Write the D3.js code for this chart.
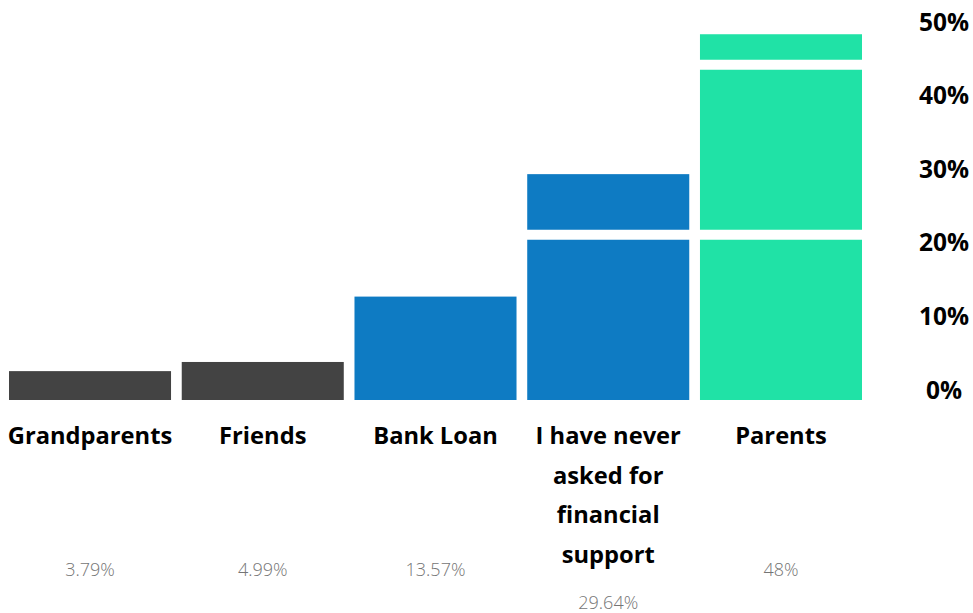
<!DOCTYPE html>
<html>
<head>
<meta charset="utf-8">
<script src="https://cdn.jsdelivr.net/npm/d3@7"></script>
<style>
  html, body { margin: 0; padding: 0; background: #fff; }
  svg { display: block; font-family: "Open Sans", "Noto Sans", sans-serif; }
</style>
</head>
<body>
<svg id="chart" width="973" height="613"></svg>
<script>
// Sources of financial support, share of respondents (%)
const categories = ["Grandparents", "Friends", "Bank Loan", "I have never asked for financial support", "Parents"];
const values = [3.79, 4.99, 13.57, 29.64, 48];
const valueLabels = ["3.79%", "4.99%", "13.57%", "29.64%", "48%"];
const barColors = ["#434343", "#434343", "#0e7bc3", "#0e7bc3", "#20e2a6"];
const tickValues = [0, 10, 20, 30, 40, 50];
const tickLabels = ["0%", "10%", "20%", "30%", "40%", "50%"];
// white breaks laid across the columns (value, %)
const breakValues = [21.7, 44];

const svg = d3.select("#chart");

const x = d3.scaleBand()
  .domain(categories)
  .range([9, 862])
  .paddingInner(0.062)
  .paddingOuter(0);

const y = d3.scaleLinear().domain([0, 50]).range([400, 19]);
// tick labels sit on their own ladder beside the columns
const yAxisScale = d3.scaleLinear().domain([0, 50]).range([398, 30]);

// columns
svg.append("g")
  .selectAll("rect")
  .data(categories)
  .join("rect")
  .attr("x", d => x(d))
  .attr("width", x.bandwidth())
  .attr("y", (d, i) => y(values[i]))
  .attr("height", (d, i) => y(0) - y(values[i]))
  .attr("fill", (d, i) => barColors[i]);

// white breaks
svg.append("g")
  .selectAll("line")
  .data(breakValues)
  .join("line")
  .attr("x1", x.range()[0] - 5)
  .attr("x2", x.range()[1] + 5)
  .attr("y1", d => y(d))
  .attr("y2", d => y(d))
  .attr("stroke", "#fff")
  .attr("stroke-width", 10);

// right-hand tick labels
const axis = d3.axisRight(yAxisScale)
  .tickValues(tickValues)
  .tickFormat((d, i) => tickLabels[i])
  .tickSize(0)
  .tickPadding(0);

const axisG = svg.append("g")
  .attr("transform", "translate(944,0)")
  .call(axis);
axisG.select(".domain").remove();
axisG.selectAll("text")
  .attr("x", 0)
  .attr("dy", 0)
  .attr("text-anchor", "middle")
  .attr("fill", "#000")
  .style("font-family", "'Open Sans', 'Noto Sans', sans-serif")
  .style("font-size", "24.5px")
  .style("font-weight", "700");

// category labels, wrapped to the column width
const lineHeight = 39.5;
const firstBaseline = 444;
const catG = svg.append("g");
const lastBaselines = [];

categories.forEach((cat, i) => {
  const cx = x(cat) + x.bandwidth() / 2;
  const text = catG.append("text")
    .attr("x", cx)
    .attr("y", firstBaseline)
    .attr("text-anchor", "middle")
    .attr("fill", "#000")
    .style("font-size", "23.7px")
    .style("font-weight", "700");
  const words = cat.split(/\s+/);
  let line = [];
  let lineNo = 0;
  let tspan = text.append("tspan").attr("x", cx).attr("y", firstBaseline);
  words.forEach(w => {
    line.push(w);
    tspan.text(line.join(" "));
    if (tspan.node().getComputedTextLength() > x.bandwidth() && line.length > 1) {
      line.pop();
      tspan.text(line.join(" "));
      line = [w];
      lineNo++;
      tspan = text.append("tspan")
        .attr("x", cx)
        .attr("y", firstBaseline + lineNo * lineHeight)
        .text(w);
    }
  });
  lastBaselines.push(firstBaseline + lineNo * lineHeight);
});

// value labels under the category names
svg.append("g")
  .selectAll("text")
  .data(categories)
  .join("text")
  .attr("x", d => x(d) + x.bandwidth() / 2)
  .attr("y", (d, i) => Math.max(576, lastBaselines[i] + 46))
  .attr("text-anchor", "middle")
  .attr("fill", "#757575")
  .style("font-size", "18px")
  .style("font-weight", "300")
  .text((d, i) => valueLabels[i]);
</script>
</body>
</html>
